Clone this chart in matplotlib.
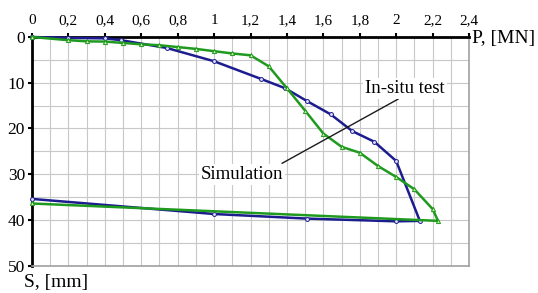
import matplotlib
matplotlib.use("Agg")
import matplotlib.pyplot as plt
from matplotlib.ticker import MultipleLocator, FixedLocator

# In-situ test (blue): load P [MN], settlement S [mm]
insitu_P = [0.0, 0.2, 0.4, 0.49, 0.74, 1.0, 1.26, 1.39, 1.51, 1.64, 1.76, 1.88, 2.0, 2.13,
            2.0, 1.51, 1.0, 0.0]
insitu_S = [0.0, 0.2, 0.3, 0.7, 2.4, 5.3, 9.2, 11.2, 14.0, 16.9, 20.6, 22.9, 27.1, 40.2,
            40.3, 39.7, 38.7, 35.4]

# Simulation (green)
sim_P = [0.0, 0.2, 0.3, 0.4, 0.5, 0.6, 0.7, 0.8, 0.9, 1.0, 1.1, 1.2, 1.3, 1.4, 1.5, 1.6,
         1.7, 1.8, 1.9, 2.0, 2.1, 2.2, 2.23, 0.0]
sim_S = [0.0, 0.7, 0.95, 1.0, 1.3, 1.6, 1.8, 2.2, 2.6, 3.1, 3.6, 4.0, 6.4, 11.2, 16.1, 21.1,
         24.0, 25.3, 28.2, 30.6, 33.3, 37.6, 40.2, 36.4]

x_ticks = [0, 0.2, 0.4, 0.6, 0.8, 1.0, 1.2, 1.4, 1.6, 1.8, 2.0, 2.2, 2.4]
x_labels = ["0", "0,2", "0,4", "0,6", "0,8", "1", "1,2", "1,4", "1,6", "1,8", "2", "2,2", "2,4"]
y_ticks = [0, 10, 20, 30, 40, 50]

plt.rcParams['font.family'] = ['Liberation Serif', 'DejaVu Serif']

fig = plt.figure(figsize=(5.38, 2.93), dpi=100)
ax = fig.add_axes([32/538, 1-265.7/293, (469-32)/538, (265.7-37)/293])

ax.set_xlim(0, 2.4)
ax.set_ylim(50, 0)

ax.xaxis.set_major_locator(FixedLocator(x_ticks))
ax.xaxis.set_minor_locator(MultipleLocator(0.1))
ax.yaxis.set_major_locator(FixedLocator(y_ticks))
ax.yaxis.set_minor_locator(MultipleLocator(5))
ax.set_xticklabels(x_labels)
ax.xaxis.tick_top()
ax.tick_params(axis='x', which='major', direction='out', length=3, width=1.5, pad=4, labelsize=11)
ax.tick_params(axis='y', which='major', direction='out', length=3, width=1.5, pad=2, labelsize=12.5)
ax.tick_params(which='minor', length=0)

ax.grid(True, which='both', color='#c8c8c8', linewidth=0.8, zorder=0)
ax.set_axisbelow(True)

for s in ['right', 'bottom']:
    ax.spines[s].set_color('#a0a0a0')
    ax.spines[s].set_linewidth(1.2)
for s in ['top', 'left']:
    ax.spines[s].set_color('black')
    ax.spines[s].set_linewidth(2)

ax.plot(insitu_P, insitu_S, color='#1c1c8e', lw=1.8, marker='o', ms=2.8,
        mfc='#dde0ff', mec='#1c1c8e', mew=0.7, zorder=3, clip_on=False)
ax.plot(sim_P, sim_S, color='#1f9a1f', lw=1.8, marker='^', ms=3,
        mfc='#c8f0a0', mec='#1f9a1f', mew=0.7, zorder=4, clip_on=False)

# leader line
ax.plot([2.011, 1.374], [13.57, 27.6], color='#1a1a1a', lw=1.0, zorder=5)

ax.text(2.05, 11.2, "In-situ test", fontsize=13.5, ha='center', va='center', zorder=6,
        bbox=dict(facecolor='white', edgecolor='none', pad=1.5))
ax.text(1.154, 30.0, "Simulation", fontsize=13.5, ha='center', va='center', zorder=6,
        bbox=dict(facecolor='white', edgecolor='none', pad=1.5))

fig.text(472/538, 1-39/293, "P, [MN]", fontsize=14, ha='left', va='center')
fig.text(24/538, 1-283/293, "S, [mm]", fontsize=14, ha='left', va='center')

fig.savefig("out.png", dpi=100)
